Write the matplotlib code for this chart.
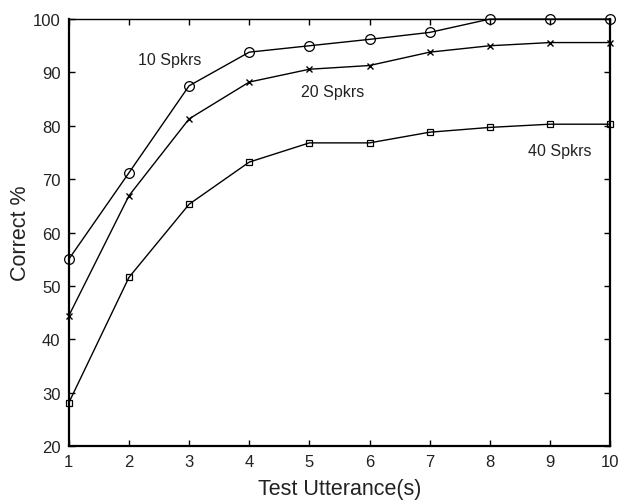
import matplotlib
matplotlib.use('Agg')
import matplotlib.pyplot as plt
import numpy as np

plt.rcParams['font.family'] = ['Liberation Sans', 'DejaVu Sans']

utterances = [1, 2, 3, 4, 5, 6, 7, 8, 9, 10]
spk10 = [55.0, 71.2, 87.5, 93.8, 95.0, 96.2, 97.5, 100, 100, 100]
spk20 = [44.4, 66.9, 81.3, 88.2, 90.6, 91.3, 93.8, 95.0, 95.6, 95.6]
spk40 = [28.1, 51.6, 65.3, 73.2, 76.8, 76.8, 78.8, 79.7, 80.3, 80.3]

fig = plt.figure(figsize=(6.2, 5.02), dpi=100)
ax = fig.add_axes([0.111, 0.1096, 0.873, 0.8504])

ax.plot(utterances, spk10, color='black', lw=1.0, marker='o', ms=7,
        mfc='none', mec='black', mew=0.9, clip_on=False, zorder=3)
ax.plot(utterances, spk20, color='black', lw=1.0, marker='x', ms=4.5,
        mec='black', mew=1.0, clip_on=False, zorder=3)
ax.plot(utterances, spk40, color='black', lw=1.0, marker='s', ms=5,
        mfc='none', mec='black', mew=0.9, clip_on=False, zorder=3)

txt = '#222222'
ax.text(2.68, 92.5, '10 Spkrs', ha='center', va='center', fontsize=11.5, color=txt)
ax.text(5.38, 86.5, '20 Spkrs', ha='center', va='center', fontsize=11.5, color=txt)
ax.text(9.17, 75.3, '40 Spkrs', ha='center', va='center', fontsize=11.5, color=txt)

ax.set_xlim(1, 10)
ax.set_ylim(20, 100)
ax.set_xticks(utterances)
ax.set_yticks(np.arange(20, 101, 10))
ax.tick_params(direction='in', length=4, width=1, top=True, right=True,
               labelsize=12, labelcolor=txt, pad=6)
for side in ['left', 'bottom', 'right']:
    ax.spines[side].set_linewidth(1.6)
ax.spines['top'].set_linewidth(1.0)

ax.set_xlabel('Test Utterance(s)', fontsize=15.5, color=txt, labelpad=6)
ax.set_ylabel('Correct %', fontsize=15.5, color=txt, labelpad=1)

fig.savefig('out.png', dpi=100)
